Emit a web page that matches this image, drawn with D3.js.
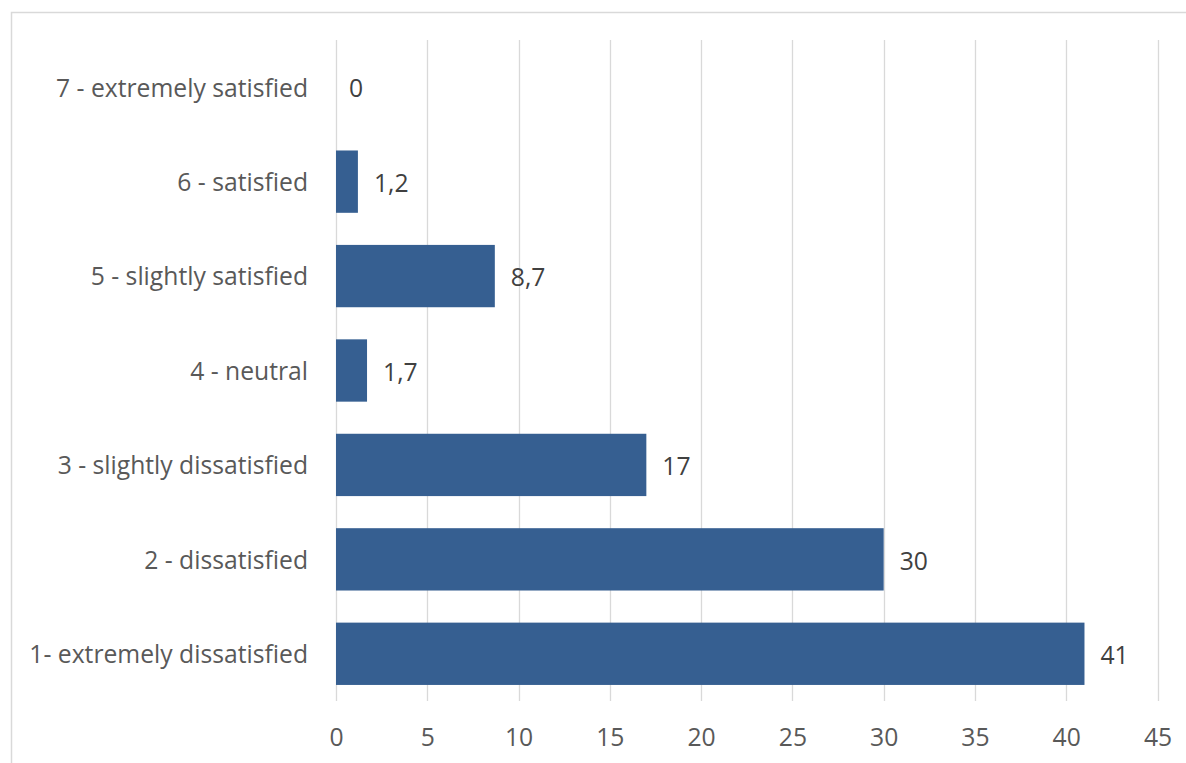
<!DOCTYPE html>
<html><head><meta charset="utf-8">
<script src="https://cdn.jsdelivr.net/npm/d3@7"></script>
<style>
html,body{margin:0;padding:0;background:#fff;}
svg{display:block;}
text{font-family:"Open Sans","Noto Sans",sans-serif;}
</style></head>
<body>
<svg id="chart" width="1186" height="763"></svg>
<script>
const categories = ["7 - extremely satisfied","6 - satisfied","5 - slightly satisfied","4 - neutral","3 - slightly dissatisfied","2 - dissatisfied","1- extremely dissatisfied"];
const values = [0, 1.2, 8.7, 1.7, 17, 30, 41];
const valueLabels = ["0","1,2","8,7","1,7","17","30","41"];
const ticks = [0,5,10,15,20,25,30,35,40,45];

(function(){
const svg = d3.select("#chart");
const W = 1186, H = 763;
const FS = 24.7;
svg.append("rect").attr("x",11.5).attr("y",12.5).attr("width",W).attr("height",H)
  .attr("fill","#fff").attr("stroke","#d9d9d9").attr("stroke-width",1.5);

const pL = 336, pR = 1157.5, pT = 40, pB = 701;
const x = d3.scaleLinear().domain([0,45]).range([pL,pR]);
const y = d3.scaleBand().domain(categories).range([pT,pB]).paddingInner(0.34).paddingOuter(0.17);

svg.append("g").selectAll("line").data(ticks).join("line")
  .attr("x1",d=>Math.round(x(d))+0.5).attr("x2",d=>Math.round(x(d))+0.5)
  .attr("y1",pT).attr("y2",pB)
  .attr("stroke","#d9d9d9").attr("stroke-width",1.3);

svg.append("g").selectAll("rect").data(values).join("rect")
  .attr("x",x(0)).attr("y",(d,i)=>y(categories[i]))
  .attr("width",d=>x(d)-x(0)).attr("height",y.bandwidth())
  .attr("fill","#365F91");

svg.append("g").selectAll("text").data(values).join("text")
  .attr("x",d=>x(d)+ (d===0?13:16)).attr("y",(d,i)=>y(categories[i])+y.bandwidth()/2+1.5)
  .attr("dy","0.35em").attr("font-size",FS).attr("fill","#404040")
  .text((d,i)=>valueLabels[i]);

const yAxis = d3.axisLeft(y).tickSize(0).tickPadding(0);
const gy = svg.append("g").attr("transform","translate(308,1.5)").call(yAxis);
gy.select(".domain").remove();
gy.selectAll("text").attr("font-size",FS).attr("fill","#595959").attr("font-family","'Open Sans','Noto Sans',sans-serif");

const xAxis = d3.axisBottom(x).tickValues(ticks).tickSize(0).tickPadding(0);
const gx = svg.append("g").attr("transform","translate(0,737)").call(xAxis);
gx.select(".domain").remove();
gx.selectAll("text").attr("dy","0.35em").attr("font-size",FS).attr("fill","#595959").attr("font-family","'Open Sans','Noto Sans',sans-serif");
})();
</script>
</body></html>
